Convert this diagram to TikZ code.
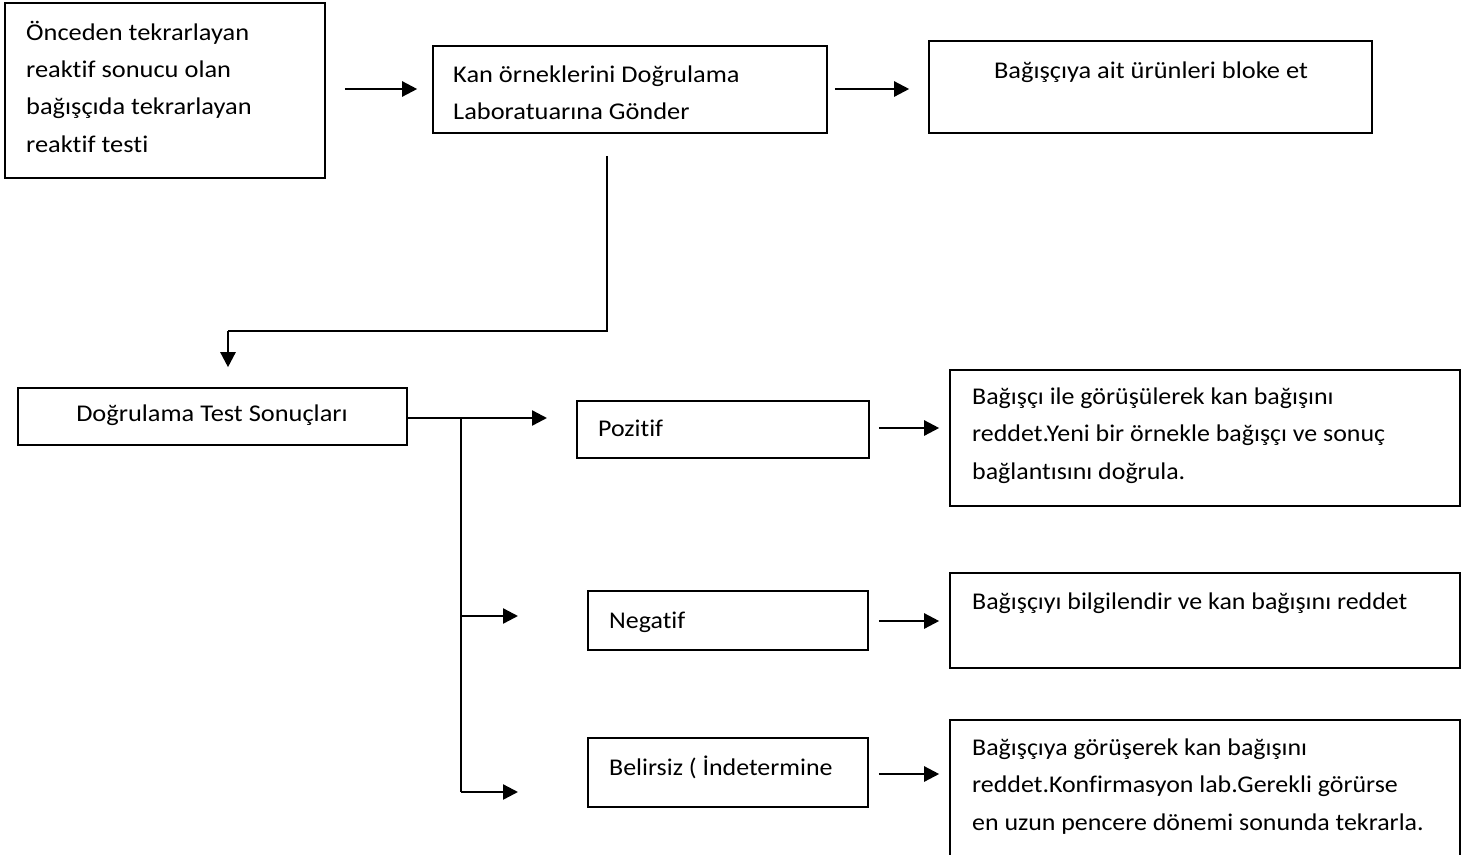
\documentclass[tikz,border=0pt]{standalone}
\usepackage{fontspec}
\setmainfont{Carlito}[FakeStretch=1.1, Ligatures={NoCommon}]
\newfontfamily\narrowfont{Carlito}[FakeStretch=1.08, Ligatures={NoCommon}]
\usetikzlibrary{arrows.meta}
\tikzset{
  box/.style={draw, line width=1.6pt, rectangle, inner sep=0pt},
  txt/.style={anchor=base west, inner sep=0pt, align=left, font=\fontsize{24}{37.3}\selectfont},
  ntxt/.style={anchor=base west, inner sep=0pt, align=left, font=\narrowfont\fontsize{24}{37.5}\selectfont},
  ctxt/.style={anchor=base, inner sep=0pt, font=\fontsize{24}{37.3}\selectfont},
  arr/.style={line width=2.4pt, -{Triangle[length=15pt,width=15pt]}},
  ln/.style={line width=2pt},
}
\newcommand\boxnode[5]{\node[box, minimum width={(#4-#2)*1pt}, minimum height={(#5-#3)*1pt}] (#1) at ({(#2+#4)/2},{(#3+#5)/2}) {};}
\begin{document}
\begin{tikzpicture}[x=1pt,y=-1pt]
\useasboundingbox (0,0) rectangle (1472,854);
\clip (0,0) rectangle (1472,854);
% boxes
\boxnode{A}{5}{3}{325}{178}
\boxnode{B}{433}{46}{827}{133}
\boxnode{C}{929}{41}{1372}{133}
\boxnode{D}{18}{388}{407}{445}
\boxnode{P}{577}{401}{869}{458}
\boxnode{PR}{950}{370}{1460}{506}
\boxnode{N}{588}{591}{868}{650}
\boxnode{NR}{950}{573}{1460}{668}
\boxnode{U}{588}{738}{868}{807}
\boxnode{UR}{950}{720}{1460}{870}
% texts (base anchor = last line)
\node[txt] (tA) at (26,152) {Önceden tekrarlayan\\reaktif sonucu olan\\bağışçıda tekrarlayan\\reaktif testi};
\node[txt] (tB) at (453,119.5) {Kan örneklerini Doğrulama\\Laboratuarına Gönder};
\node[ctxt] (tC) at (1151,78) {Bağışçıya ait ürünleri bloke et};
\node[ctxt] (tD) at (212,421) {Doğrulama Test Sonuçları};
\node[ntxt] (tP) at (598,436) {Pozitif};
\node[ntxt] (tPR) at (972,479) {Bağışçı ile görüşülerek kan bağışını\\reddet.Yeni bir örnekle bağışçı ve sonuç\\bağlantısını doğrula.};
\node[ntxt] (tN) at (609,628) {Negatif};
\node[ntxt] (tNR) at (972,609) {Bağışçıyı bilgilendir ve kan bağışını reddet};
\node[ntxt] (tU) at (609,775) {Belirsiz ( İndetermine};
\node[ntxt] (tUR) at (972,830) {Bağışçıya görüşerek kan bağışını\\reddet.Konfirmasyon lab.Gerekli görürse\\en uzun pencere dönemi sonunda tekrarla.};
% connectors
\draw[arr, shorten <=19pt, shorten >=15pt] (A.east |- 0,89) -- (B.west |- 0,89);
\draw[arr, shorten <=7pt, shorten >=19pt] (B.east |- 0,89) -- (C.west |- 0,89);
\coordinate (b1) at (607,331);
\coordinate (b2) at (228,331);
\draw[ln, shorten <=22pt] (B.south -| b1) -- (b1) -- (b2);
\draw[arr, shorten >=20pt] (b2) -- (b2 |- D.north);
\coordinate (j) at (461,418);
\draw[line width=1.2pt] (D.east |- j) -- (440,418);
\draw[arr] (440,418) -- (547,418);
\coordinate (j1) at (461,616);
\coordinate (j2) at (461,792);
\draw[ln] (j) -- (j2);
\draw[arr] (j1) -- (518,616);
\draw[arr] (j2) -- (518,792);
\draw[arr, shorten <=9pt, shorten >=10pt] (P.east |- 0,428) -- (PR.west |- 0,428);
\draw[arr, shorten <=10pt, shorten >=10pt] (N.east |- 0,621) -- (NR.west |- 0,621);
\draw[arr, shorten <=10pt, shorten >=10pt] (U.east |- 0,774) -- (UR.west |- 0,774);
\end{tikzpicture}
\end{document}
